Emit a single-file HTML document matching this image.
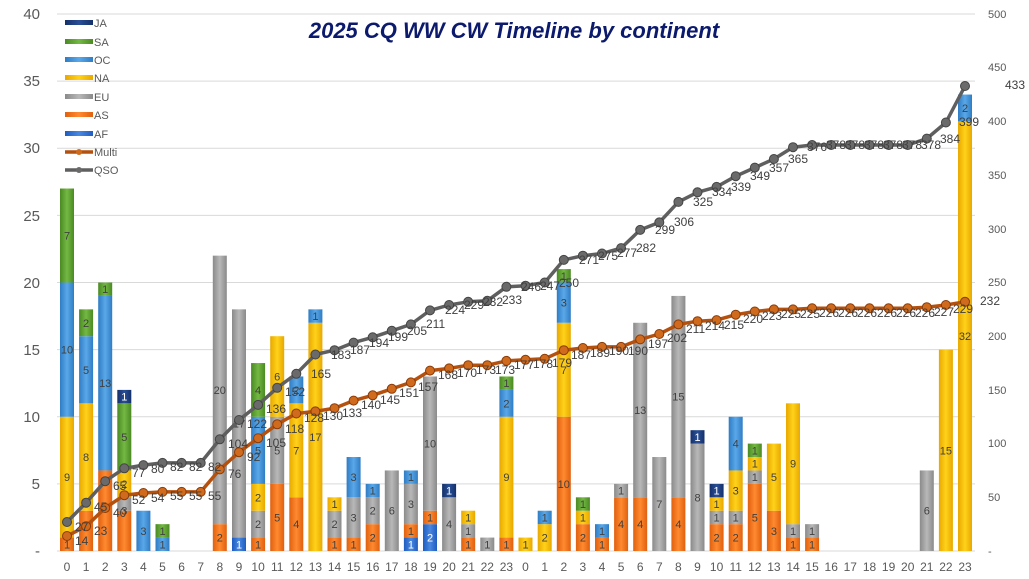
<!DOCTYPE html>
<html><head><meta charset="utf-8"><style>
html,body{margin:0;padding:0;background:#fff;}
svg{display:block;font-family:"Liberation Sans",sans-serif;}
</style></head><body>
<svg width="1029" height="579" viewBox="0 0 1029 579" xmlns="http://www.w3.org/2000/svg">
<defs>
<linearGradient id="gJA" x1="0" x2="1"><stop offset="0" stop-color="#14306a"/><stop offset=".5" stop-color="#2a4f96"/><stop offset="1" stop-color="#14306a"/></linearGradient>
<linearGradient id="gSA" x1="0" x2="1"><stop offset="0" stop-color="#4a8a22"/><stop offset=".5" stop-color="#74b844"/><stop offset="1" stop-color="#4a8a22"/></linearGradient>
<linearGradient id="gOC" x1="0" x2="1"><stop offset="0" stop-color="#2f7cc4"/><stop offset=".5" stop-color="#5aa8e8"/><stop offset="1" stop-color="#2f7cc4"/></linearGradient>
<linearGradient id="gNA" x1="0" x2="1"><stop offset="0" stop-color="#e8a800"/><stop offset=".5" stop-color="#ffd21a"/><stop offset="1" stop-color="#e8a800"/></linearGradient>
<linearGradient id="gEU" x1="0" x2="1"><stop offset="0" stop-color="#8a8a8a"/><stop offset=".5" stop-color="#b8b8b8"/><stop offset="1" stop-color="#8a8a8a"/></linearGradient>
<linearGradient id="gAS" x1="0" x2="1"><stop offset="0" stop-color="#e0600e"/><stop offset=".5" stop-color="#ff8a30"/><stop offset="1" stop-color="#e0600e"/></linearGradient>
<linearGradient id="gAF" x1="0" x2="1"><stop offset="0" stop-color="#1f5cc0"/><stop offset=".5" stop-color="#4a88e0"/><stop offset="1" stop-color="#1f5cc0"/></linearGradient>
<marker id="mQ" markerUnits="userSpaceOnUse" markerWidth="12" markerHeight="12" refX="6" refY="6"><circle cx="6" cy="6" r="4.5" fill="#6a6a6a" stroke="#444" stroke-width="1"/></marker>
<marker id="mM" markerUnits="userSpaceOnUse" markerWidth="12" markerHeight="12" refX="6" refY="6"><circle cx="6" cy="6" r="4.5" fill="#d06a1c" stroke="#8a3a08" stroke-width="1"/></marker>
</defs>

<!-- gridlines -->
<g stroke="#d9d9d9" stroke-width="1">
<line x1="57" x2="975" y1="551" y2="551"/><line x1="57" x2="975" y1="483.9" y2="483.9"/><line x1="57" x2="975" y1="416.7" y2="416.7"/><line x1="57" x2="975" y1="349.6" y2="349.6"/><line x1="57" x2="975" y1="282.5" y2="282.5"/><line x1="57" x2="975" y1="215.4" y2="215.4"/><line x1="57" x2="975" y1="148.2" y2="148.2"/><line x1="57" x2="975" y1="81.1" y2="81.1"/><line x1="57" x2="975" y1="14" y2="14"/>
</g>

<!-- left axis -->
<g font-size="15" fill="#595959" text-anchor="end">
<text x="40" y="556">-</text><text x="40" y="489">5</text><text x="40" y="422">10</text><text x="40" y="355">15</text><text x="40" y="288">20</text><text x="40" y="221">25</text><text x="40" y="153">30</text><text x="40" y="86">35</text><text x="40" y="19">40</text>
</g>
<!-- right axis -->
<g font-size="11" fill="#595959" text-anchor="start">
<text x="988" y="555">-</text><text x="988" y="501">50</text><text x="988" y="447">100</text><text x="988" y="394">150</text><text x="988" y="340">200</text><text x="988" y="286">250</text><text x="988" y="233">300</text><text x="988" y="179">350</text><text x="988" y="125">400</text><text x="988" y="71">450</text><text x="988" y="18">500</text>
</g>

<!-- bars (unit coordinates) -->
<g transform="translate(0,551) scale(1,-13.425)">
<!-- 0 -->
<rect x="60" y="0" width="14" height="1" fill="url(#gAS)"/><rect x="60" y="1" width="14" height="9" fill="url(#gNA)"/><rect x="60" y="10" width="14" height="10" fill="url(#gOC)"/><rect x="60" y="20" width="14" height="7" fill="url(#gSA)"/>
<!-- 1 -->
<rect x="79.1" y="0" width="14" height="3" fill="url(#gAS)"/><rect x="79.1" y="3" width="14" height="8" fill="url(#gNA)"/><rect x="79.1" y="11" width="14" height="5" fill="url(#gOC)"/><rect x="79.1" y="16" width="14" height="2" fill="url(#gSA)"/>
<!-- 2 -->
<rect x="98.2" y="0" width="14" height="6" fill="url(#gAS)"/><rect x="98.2" y="6" width="14" height="13" fill="url(#gOC)"/><rect x="98.2" y="19" width="14" height="1" fill="url(#gSA)"/>
<!-- 3 -->
<rect x="117.3" y="0" width="14" height="3" fill="url(#gAS)"/><rect x="117.3" y="3" width="14" height="1" fill="url(#gEU)"/><rect x="117.3" y="4" width="14" height="2" fill="url(#gNA)"/><rect x="117.3" y="6" width="14" height="5" fill="url(#gSA)"/><rect x="117.3" y="11" width="14" height="1" fill="url(#gJA)"/>
<!-- 4 -->
<rect x="136.4" y="0" width="14" height="3" fill="url(#gOC)"/>
<!-- 5 -->
<rect x="155.5" y="0" width="14" height="1" fill="url(#gOC)"/><rect x="155.5" y="1" width="14" height="1" fill="url(#gSA)"/>
<!-- 8 -->
<rect x="212.8" y="0" width="14" height="2" fill="url(#gAS)"/><rect x="212.8" y="2" width="14" height="20" fill="url(#gEU)"/>
<!-- 9 -->
<rect x="232" y="0" width="14" height="1" fill="url(#gAF)"/><rect x="232" y="1" width="14" height="17" fill="url(#gEU)"/>
<!-- 10 -->
<rect x="251.1" y="0" width="14" height="1" fill="url(#gAS)"/><rect x="251.1" y="1" width="14" height="2" fill="url(#gEU)"/><rect x="251.1" y="3" width="14" height="2" fill="url(#gNA)"/><rect x="251.1" y="5" width="14" height="5" fill="url(#gOC)"/><rect x="251.1" y="10" width="14" height="4" fill="url(#gSA)"/>
<!-- 11 -->
<rect x="270.2" y="0" width="14" height="5" fill="url(#gAS)"/><rect x="270.2" y="5" width="14" height="5" fill="url(#gEU)"/><rect x="270.2" y="10" width="14" height="6" fill="url(#gNA)"/>
<!-- 12 -->
<rect x="289.3" y="0" width="14" height="4" fill="url(#gAS)"/><rect x="289.3" y="4" width="14" height="7" fill="url(#gNA)"/><rect x="289.3" y="11" width="14" height="2" fill="url(#gOC)"/>
<!-- 13 -->
<rect x="308.4" y="0" width="14" height="17" fill="url(#gNA)"/><rect x="308.4" y="17" width="14" height="1" fill="url(#gOC)"/>
<!-- 14 -->
<rect x="327.5" y="0" width="14" height="1" fill="url(#gAS)"/><rect x="327.5" y="1" width="14" height="2" fill="url(#gEU)"/><rect x="327.5" y="3" width="14" height="1" fill="url(#gNA)"/>
<!-- 15 -->
<rect x="346.6" y="0" width="14" height="1" fill="url(#gAS)"/><rect x="346.6" y="1" width="14" height="3" fill="url(#gEU)"/><rect x="346.6" y="4" width="14" height="3" fill="url(#gOC)"/>
<!-- 16 -->
<rect x="365.7" y="0" width="14" height="2" fill="url(#gAS)"/><rect x="365.7" y="2" width="14" height="2" fill="url(#gEU)"/><rect x="365.7" y="4" width="14" height="1" fill="url(#gOC)"/>
<!-- 17 -->
<rect x="384.8" y="0" width="14" height="6" fill="url(#gEU)"/>
<!-- 18 -->
<rect x="403.9" y="0" width="14" height="1" fill="url(#gAF)"/><rect x="403.9" y="1" width="14" height="1" fill="url(#gAS)"/><rect x="403.9" y="2" width="14" height="3" fill="url(#gEU)"/><rect x="403.9" y="5" width="14" height="1" fill="url(#gOC)"/>
<!-- 19 -->
<rect x="423" y="0" width="14" height="2" fill="url(#gAF)"/><rect x="423" y="2" width="14" height="1" fill="url(#gAS)"/><rect x="423" y="3" width="14" height="10" fill="url(#gEU)"/>
<!-- 20 -->
<rect x="442.1" y="0" width="14" height="4" fill="url(#gEU)"/><rect x="442.1" y="4" width="14" height="1" fill="url(#gJA)"/>
<!-- 21 -->
<rect x="461.2" y="0" width="14" height="1" fill="url(#gAS)"/><rect x="461.2" y="1" width="14" height="1" fill="url(#gEU)"/><rect x="461.2" y="2" width="14" height="1" fill="url(#gNA)"/>
<!-- 22 -->
<rect x="480.3" y="0" width="14" height="1" fill="url(#gEU)"/>
<!-- 23 -->
<rect x="499.4" y="0" width="14" height="1" fill="url(#gAS)"/><rect x="499.4" y="1" width="14" height="9" fill="url(#gNA)"/><rect x="499.4" y="10" width="14" height="2" fill="url(#gOC)"/><rect x="499.4" y="12" width="14" height="1" fill="url(#gSA)"/>
<!-- 24 -->
<rect x="518.5" y="0" width="14" height="1" fill="url(#gNA)"/>
<!-- 25 -->
<rect x="537.7" y="0" width="14" height="2" fill="url(#gNA)"/><rect x="537.7" y="2" width="14" height="1" fill="url(#gOC)"/>
<!-- 26 -->
<rect x="556.8" y="0" width="14" height="10" fill="url(#gAS)"/><rect x="556.8" y="10" width="14" height="7" fill="url(#gNA)"/><rect x="556.8" y="17" width="14" height="3" fill="url(#gOC)"/><rect x="556.8" y="20" width="14" height="1" fill="url(#gSA)"/>
<!-- 27 -->
<rect x="575.9" y="0" width="14" height="2" fill="url(#gAS)"/><rect x="575.9" y="2" width="14" height="1" fill="url(#gNA)"/><rect x="575.9" y="3" width="14" height="1" fill="url(#gSA)"/>
<!-- 28 -->
<rect x="595" y="0" width="14" height="1" fill="url(#gAS)"/><rect x="595" y="1" width="14" height="1" fill="url(#gOC)"/>
<!-- 29 -->
<rect x="614.1" y="0" width="14" height="4" fill="url(#gAS)"/><rect x="614.1" y="4" width="14" height="1" fill="url(#gEU)"/>
<!-- 30 -->
<rect x="633.2" y="0" width="14" height="4" fill="url(#gAS)"/><rect x="633.2" y="4" width="14" height="13" fill="url(#gEU)"/>
<!-- 31 -->
<rect x="652.3" y="0" width="14" height="7" fill="url(#gEU)"/>
<!-- 32 -->
<rect x="671.4" y="0" width="14" height="4" fill="url(#gAS)"/><rect x="671.4" y="4" width="14" height="15" fill="url(#gEU)"/>
<!-- 33 -->
<rect x="690.5" y="0" width="14" height="8" fill="url(#gEU)"/><rect x="690.5" y="8" width="14" height="1" fill="url(#gJA)"/>
<!-- 34 -->
<rect x="709.6" y="0" width="14" height="2" fill="url(#gAS)"/><rect x="709.6" y="2" width="14" height="1" fill="url(#gEU)"/><rect x="709.6" y="3" width="14" height="1" fill="url(#gNA)"/><rect x="709.6" y="4" width="14" height="1" fill="url(#gJA)"/>
<!-- 35 -->
<rect x="728.7" y="0" width="14" height="2" fill="url(#gAS)"/><rect x="728.7" y="2" width="14" height="1" fill="url(#gEU)"/><rect x="728.7" y="3" width="14" height="3" fill="url(#gNA)"/><rect x="728.7" y="6" width="14" height="4" fill="url(#gOC)"/>
<!-- 36 -->
<rect x="747.8" y="0" width="14" height="5" fill="url(#gAS)"/><rect x="747.8" y="5" width="14" height="1" fill="url(#gEU)"/><rect x="747.8" y="6" width="14" height="1" fill="url(#gNA)"/><rect x="747.8" y="7" width="14" height="1" fill="url(#gSA)"/>
<!-- 37 -->
<rect x="766.9" y="0" width="14" height="3" fill="url(#gAS)"/><rect x="766.9" y="3" width="14" height="5" fill="url(#gNA)"/>
<!-- 38 -->
<rect x="786" y="0" width="14" height="1" fill="url(#gAS)"/><rect x="786" y="1" width="14" height="1" fill="url(#gEU)"/><rect x="786" y="2" width="14" height="9" fill="url(#gNA)"/>
<!-- 39 -->
<rect x="805.1" y="0" width="14" height="1" fill="url(#gAS)"/><rect x="805.1" y="1" width="14" height="1" fill="url(#gEU)"/>
<!-- 45 -->
<rect x="919.8" y="0" width="14" height="6" fill="url(#gEU)"/>
<!-- 46 -->
<rect x="938.9" y="0" width="14" height="15" fill="url(#gNA)"/>
<!-- 47 -->
<rect x="958" y="0" width="14" height="32" fill="url(#gNA)"/><rect x="958" y="32" width="14" height="2" fill="url(#gOC)"/>
</g>

<!-- bar segment labels -->
<g font-size="11" fill="#404040" text-anchor="middle">
<text x="67" y="548.3">1</text><text x="67" y="481.2">9</text><text x="67" y="353.6">10</text><text x="67" y="239.5">7</text>
<text x="86.1" y="461">8</text><text x="86.1" y="373.8">5</text><text x="86.1" y="326.8">2</text>
<text x="105.2" y="387.2">13</text><text x="105.2" y="293.2">1</text>
<text x="124.3" y="514.7">3</text><text x="124.3" y="487.9">2</text><text x="124.3" y="440.9">5</text><text x="124.3" y="400.6" fill="#fff">1</text>
<text x="143.4" y="534.9">3</text>
<text x="162.5" y="548.3">1</text><text x="162.5" y="534.9">1</text>
<text x="219.8" y="541.6">2</text><text x="219.8" y="393.9">20</text>
<text x="239" y="548.3" fill="#fff">1</text><text x="239" y="427.5">17</text>
<text x="258.1" y="548.3">1</text><text x="258.1" y="528.2">2</text><text x="258.1" y="501.3">2</text><text x="258.1" y="454.3">5</text><text x="258.1" y="393.9">4</text>
<text x="277.2" y="521.4">5</text><text x="277.2" y="454.3">5</text><text x="277.2" y="380.5">6</text>
<text x="296.3" y="528.2">4</text><text x="296.3" y="454.3">7</text><text x="296.3" y="393.9">2</text>
<text x="315.4" y="440.9">17</text><text x="315.4" y="320.1">1</text>
<text x="334.5" y="548.3">1</text><text x="334.5" y="528.2">2</text><text x="334.5" y="508">1</text>
<text x="353.6" y="548.3">1</text><text x="353.6" y="521.4">3</text><text x="353.6" y="481.2">3</text>
<text x="372.7" y="541.6">2</text><text x="372.7" y="514.7">2</text><text x="372.7" y="494.6">1</text>
<text x="391.8" y="514.7">6</text>
<text x="410.9" y="548.3" fill="#fff">1</text><text x="410.9" y="534.9">1</text><text x="410.9" y="508">3</text><text x="410.9" y="481.2">1</text>
<text x="430" y="541.6" fill="#fff">2</text><text x="430" y="521.4">1</text><text x="430" y="447.6">10</text>
<text x="449.1" y="528.2">4</text><text x="449.1" y="494.6" fill="#fff">1</text>
<text x="468.2" y="548.3">1</text><text x="468.2" y="534.9">1</text><text x="468.2" y="521.4">1</text>
<text x="487.3" y="548.3">1</text>
<text x="506.4" y="548.3">1</text><text x="506.4" y="481.2">9</text><text x="506.4" y="407.3">2</text><text x="506.4" y="387.2">1</text>
<text x="525.5" y="548.3">1</text>
<text x="544.7" y="541.6">2</text><text x="544.7" y="521.4">1</text>
<text x="563.8" y="487.9">10</text><text x="563.8" y="373.8">7</text><text x="563.8" y="306.6">3</text><text x="563.8" y="279.8">1</text>
<text x="582.9" y="541.6">2</text><text x="582.9" y="521.4">1</text><text x="582.9" y="508">1</text>
<text x="602" y="548.3">1</text><text x="602" y="534.9">1</text>
<text x="621.1" y="528.2">4</text><text x="621.1" y="494.6">1</text>
<text x="640.2" y="528.2">4</text><text x="640.2" y="414">13</text>
<text x="659.3" y="508">7</text>
<text x="678.4" y="528.2">4</text><text x="678.4" y="400.6">15</text>
<text x="697.5" y="501.3">8</text><text x="697.5" y="440.9" fill="#fff">1</text>
<text x="716.6" y="541.6">2</text><text x="716.6" y="521.4">1</text><text x="716.6" y="508">1</text><text x="716.6" y="494.6" fill="#fff">1</text>
<text x="735.7" y="541.6">2</text><text x="735.7" y="521.4">1</text><text x="735.7" y="494.6">3</text><text x="735.7" y="447.6">4</text>
<text x="754.8" y="521.4">5</text><text x="754.8" y="481.2">1</text><text x="754.8" y="467.7">1</text><text x="754.8" y="454.3">1</text>
<text x="773.9" y="534.9">3</text><text x="773.9" y="481.2">5</text>
<text x="793" y="548.3">1</text><text x="793" y="534.9">1</text><text x="793" y="467.7">9</text>
<text x="812.1" y="548.3">1</text><text x="812.1" y="534.9">1</text>
<text x="926.8" y="514.7">6</text>
<text x="945.9" y="454.3">15</text>
<text x="965" y="340.2">32</text><text x="965" y="112">2</text>
</g>

<!-- lines -->
<polyline fill="none" stroke="#b5510f" stroke-width="3.5" stroke-linejoin="round" marker-start="url(#mM)" marker-mid="url(#mM)" marker-end="url(#mM)" points="67,536 86.1,526.3 105.2,508 124.3,495.2 143.4,493 162.5,491.9 181.6,491.9 200.7,491.9 219.8,469.4 239,452.2 258.1,438.2 277.2,424.3 296.3,413.5 315.4,411.4 334.5,408.2 353.6,400.6 372.7,395.3 391.8,388.8 410.9,382.4 430,370.6 449.1,368.4 468.2,365.2 487.3,365.2 506.4,360.9 525.5,359.8 544.7,358.8 563.8,350.2 582.9,348 602,346.9 621.1,346.9 640.2,339.4 659.3,334 678.4,324.4 697.5,321.2 716.6,320.1 735.7,314.7 754.8,311.5 773.9,309.4 793,309.4 812.1,308.3 831.2,308.3 850.3,308.3 869.5,308.3 888.6,308.3 907.7,308.3 926.8,307.2 945.9,305 965,301.8"/>
<polyline fill="none" stroke="#5f5f5f" stroke-width="3.5" stroke-linejoin="round" marker-start="url(#mQ)" marker-mid="url(#mQ)" marker-end="url(#mQ)" points="67,522 86.1,502.7 105.2,481.2 124.3,468.3 143.4,465.1 162.5,462.9 181.6,462.9 200.7,462.9 219.8,439.3 239,420 258.1,404.9 277.2,387.8 296.3,373.8 315.4,354.5 334.5,350.2 353.6,342.6 372.7,337.3 391.8,330.8 410.9,324.4 430,310.4 449.1,305 468.2,301.8 487.3,300.8 506.4,286.8 525.5,285.7 544.7,282.5 563.8,259.9 582.9,255.7 602,253.5 621.1,248.1 640.2,229.9 659.3,222.4 678.4,201.9 697.5,192.3 716.6,186.9 735.7,176.2 754.8,167.6 773.9,159 793,147.2 812.1,145 831.2,145 850.3,145 869.5,145 888.6,145 907.7,145 926.8,138.6 945.9,122.5 965,86"/>

<!-- multi labels -->
<g font-size="12" fill="#404040">
<text x="75" y="545">14</text><text x="94" y="535">23</text><text x="113" y="517">40</text><text x="132" y="504">52</text><text x="151" y="502">54</text><text x="170" y="500">55</text><text x="189" y="500">55</text><text x="208" y="500">55</text><text x="228" y="478">76</text><text x="247" y="461">92</text><text x="266" y="447">105</text><text x="285" y="433">118</text><text x="304" y="422">128</text><text x="323" y="420">130</text><text x="342" y="417">133</text><text x="361" y="409">140</text><text x="380" y="404">145</text><text x="399" y="397">151</text><text x="418" y="391">157</text><text x="438" y="379">168</text><text x="457" y="377">170</text><text x="476" y="374">173</text><text x="495" y="374">173</text><text x="514" y="369">177</text><text x="533" y="368">178</text><text x="552" y="367">179</text><text x="571" y="359">187</text><text x="590" y="357">189</text><text x="609" y="355">190</text><text x="628" y="355">190</text><text x="648" y="348">197</text><text x="667" y="342">202</text><text x="686" y="333">211</text><text x="705" y="330">214</text><text x="724" y="329">215</text><text x="743" y="323">220</text><text x="762" y="320">223</text><text x="781" y="318">225</text><text x="800" y="318">225</text><text x="819" y="317">226</text><text x="838" y="317">226</text><text x="857" y="317">226</text><text x="877" y="317">226</text><text x="896" y="317">226</text><text x="915" y="317">226</text><text x="934" y="316">227</text><text x="953" y="313">229</text><text x="980" y="305">232</text>
</g>
<!-- QSO labels -->
<g font-size="12" fill="#404040">
<text x="75" y="531">27</text><text x="94" y="511">45</text><text x="113" y="490">65</text><text x="132" y="477">77</text><text x="151" y="473">80</text><text x="170" y="471">82</text><text x="189" y="471">82</text><text x="208" y="471">82</text><text x="228" y="448">104</text><text x="247" y="428">122</text><text x="266" y="413">136</text><text x="285" y="396">152</text><text x="311" y="378">165</text><text x="331" y="359">183</text><text x="350" y="354">187</text><text x="369" y="347">194</text><text x="388" y="341">199</text><text x="407" y="335">205</text><text x="426" y="328">211</text><text x="445" y="314">224</text><text x="464" y="309">229</text><text x="483" y="306">232</text><text x="502" y="304">233</text><text x="521" y="291">246</text><text x="540" y="290">247</text><text x="559" y="287">250</text><text x="579" y="264">271</text><text x="598" y="260">275</text><text x="617" y="257">277</text><text x="636" y="252">282</text><text x="655" y="234">299</text><text x="674" y="226">306</text><text x="693" y="206">325</text><text x="712" y="196">334</text><text x="731" y="191">339</text><text x="750" y="180">349</text><text x="769" y="172">357</text><text x="788" y="163">365</text><text x="807" y="151">376</text><text x="826" y="149">378</text><text x="845" y="149">378</text><text x="864" y="149">378</text><text x="883" y="149">378</text><text x="902" y="149">378</text><text x="921" y="149">378</text><text x="940" y="143">384</text><text x="959" y="126">399</text><text x="1005" y="89">433</text>
</g>

<!-- x axis labels -->
<g font-size="12" fill="#595959" text-anchor="middle">
<text x="67" y="571">0</text><text x="86.1" y="571">1</text><text x="105.2" y="571">2</text><text x="124.3" y="571">3</text><text x="143.4" y="571">4</text><text x="162.5" y="571">5</text><text x="181.6" y="571">6</text><text x="200.7" y="571">7</text><text x="219.8" y="571">8</text><text x="239" y="571">9</text><text x="258.1" y="571">10</text><text x="277.2" y="571">11</text><text x="296.3" y="571">12</text><text x="315.4" y="571">13</text><text x="334.5" y="571">14</text><text x="353.6" y="571">15</text><text x="372.7" y="571">16</text><text x="391.8" y="571">17</text><text x="410.9" y="571">18</text><text x="430" y="571">19</text><text x="449.1" y="571">20</text><text x="468.2" y="571">21</text><text x="487.3" y="571">22</text><text x="506.4" y="571">23</text>
<text x="525.5" y="571">0</text><text x="544.7" y="571">1</text><text x="563.8" y="571">2</text><text x="582.9" y="571">3</text><text x="602" y="571">4</text><text x="621.1" y="571">5</text><text x="640.2" y="571">6</text><text x="659.3" y="571">7</text><text x="678.4" y="571">8</text><text x="697.5" y="571">9</text><text x="716.6" y="571">10</text><text x="735.7" y="571">11</text><text x="754.8" y="571">12</text><text x="773.9" y="571">13</text><text x="793" y="571">14</text><text x="812.1" y="571">15</text><text x="831.2" y="571">16</text><text x="850.3" y="571">17</text><text x="869.5" y="571">18</text><text x="888.6" y="571">19</text><text x="907.7" y="571">20</text><text x="926.8" y="571">21</text><text x="945.9" y="571">22</text><text x="965" y="571">23</text>
</g>

<!-- legend -->
<g font-size="11" fill="#595959">
<rect x="65" y="20" width="28" height="5" fill="url(#gJA)"/><text x="94" y="27">JA</text>
<rect x="65" y="39" width="28" height="5" fill="url(#gSA)"/><text x="94" y="46">SA</text>
<rect x="65" y="57" width="28" height="5" fill="url(#gOC)"/><text x="94" y="64">OC</text>
<rect x="65" y="75" width="28" height="5" fill="url(#gNA)"/><text x="94" y="82">NA</text>
<rect x="65" y="94" width="28" height="5" fill="url(#gEU)"/><text x="94" y="101">EU</text>
<rect x="65" y="112" width="28" height="5" fill="url(#gAS)"/><text x="94" y="119">AS</text>
<rect x="65" y="131" width="28" height="5" fill="url(#gAF)"/><text x="94" y="138">AF</text>
<line x1="65" x2="93" y1="152" y2="152" stroke="#b5510f" stroke-width="3.5"/><circle cx="79" cy="152" r="3" fill="#d06a1c"/><text x="94" y="156">Multi</text>
<line x1="65" x2="93" y1="170" y2="170" stroke="#5f5f5f" stroke-width="3.5"/><circle cx="79" cy="170" r="3" fill="#6a6a6a"/><text x="94" y="174">QSO</text>
</g>

<!-- title -->
<text x="514" y="38" text-anchor="middle" font-size="22" font-weight="bold" font-style="italic" fill="#0c1a6e">2025 CQ WW CW Timeline by continent</text>
</svg>
</body></html>
